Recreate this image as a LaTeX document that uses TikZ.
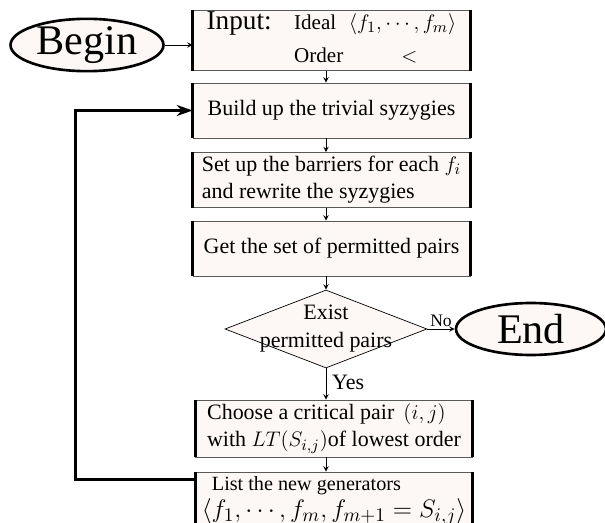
\documentclass[tikz,border=0pt]{standalone}
\usepackage{fontspec}
\setmainfont{Liberation Serif}
\usetikzlibrary{shapes.geometric, arrows, arrows.meta}
\definecolor{boxfill}{RGB}{253,248,246}
\tikzset{
  %---------------------------------------%
  %        Flowchart: step boxes          %
  %---------------------------------------%
  % Thick bars on the sides of a step box
  box_side/.style={
    -,
    draw=black,
    line width=1.9pt
  },
  % Box for a step of the algorithm
  box_step/.style={
    rectangle,
    align=center,
    draw=black!65,
    thin,
    fill=boxfill,
    minimum width=5.54cm,
    minimum height=1.1cm,
    inner sep=2pt,
    font=\fontsize{12.5}{15.5}\selectfont,
    append after command={
      (\tikzlastnode.north west) edge[box_side] (\tikzlastnode.south west)
      (\tikzlastnode.north east) edge[box_side] (\tikzlastnode.south east)}
  },
  % Begin / End
  box_term/.style={
    ellipse,
    draw=black,
    line width=1.5pt,
    fill=boxfill,
    inner sep=0pt,
    font=\fontsize{24}{24}\selectfont
  },
  % Decision
  dec/.style={
    diamond,
    aspect=2.6,
    align=center,
    draw=black,
    thin,
    fill=boxfill,
    inner sep=-0.3cm,
    minimum width=4.04cm,
    minimum height=1.56cm,
    font=\fontsize{12.5}{16}\selectfont
  },
  %----------------%
  %     Arrows     %
  %----------------%
  arrow/.style={draw,thin,->,>=stealth},
  loop_arrow/.style={draw,line width=1.9pt,-{Stealth[length=0.32cm,width=0.22cm]}},
}

\begin{document}
\begin{tikzpicture}[x=0.02cm, y=-0.02cm]
    \useasboundingbox (0,0) rectangle (605,523);

    %-----------%
    %  Start    %
    %-----------%
    % Begin
    \node (begin) [box_term, minimum width=3.06cm, minimum height=1.0cm] at (87,45) {Begin};
    % Input
    \node (input) [box_step, inner sep=0pt] at (331.5,40.5) {%
      \begin{tabular}{@{}l@{\hspace{0.45cm}}l@{\ }l@{}}
        {\fontsize{15.5}{17}\selectfont Input:} & \fontsize{12}{14}\selectfont Ideal & $\langle f_1,\cdots,f_m\rangle$\\[3pt]
        & \fontsize{12}{14}\selectfont Order & \hspace{1.05cm}$<$
      \end{tabular}};

    %-----------%
    %  Steps    %
    %-----------%
    % Trivial syzygies
    \node (build) [box_step] at (331.5,110.5) {Build up the trivial syzygies};
    % Barriers
    \node (setup) [box_step, align=left] at (331.5,180) {Set up the barriers for each $f_i$\\and rewrite the syzygies};
    % Permitted pairs
    \node (get) [box_step] at (331.5,248.5) {Get the set of permitted pairs};

    %-------------%
    %  Decision   %
    %-------------%
    \node (exist) [dec] at (326,329) {Exist\\permitted pairs};
    % End
    \node (end) [box_term, minimum width=3.0cm, minimum height=1.04cm] at (531,329) {End};

    %--------------%
    %  Loop body   %
    %--------------%
    % Critical pair
    \node (choose) [box_step, align=left, minimum height=1.14cm] at (334,428.5) {Choose a critical pair\ \,$(i,j)$\\with $LT(S_{i,j})$of lowest order};
    % New generators
    \node (list) [box_step, align=left, minimum height=1.16cm, inner xsep=0pt] at (334,501) {{\fontsize{11.5}{14}\selectfont\ \ List the new generators}\\{\fontsize{15.5}{17}\selectfont$\langle f_1,\cdots,f_m,f_{m+1}=S_{i,j}\rangle$}};

    %----------%
    %  Arrows  %
    %----------%
    % Begin --> Input
    \draw [arrow] (begin.east) -- (input.west |- begin.east);
    % Input --> Build
    \draw [arrow] (input.south -| exist.north) -- (build.north -| exist.north);
    % Build --> Set up
    \draw [arrow] (build.south -| exist.north) -- (setup.north -| exist.north);
    % Set up --> Get
    \draw [arrow] (setup.south -| exist.north) -- (get.north -| exist.north);
    % Get --> Exist
    \draw [arrow] (get.south -| exist.north) -- (exist.north);
    % Exist --> End
    \draw [arrow] (exist.east) -- node (no_lbl) [above, font=\fontsize{10}{10}\selectfont, inner sep=1pt] {No} (end.west);
    % Exist --> Choose
    \draw [arrow] (exist.south) -- node (yes_lbl) [right, pos=0.45, font=\fontsize{12.5}{13}\selectfont] {Yes} (choose.north -| exist.south);
    % Choose --> List
    \draw [arrow] (choose.south -| exist.south) -- (list.north -| exist.south);
    % List --> Build (loop back)
    \coordinate (loop_start) at ([yshift=-0.16cm]list.north west);
    \draw [loop_arrow] (loop_start) -- ++(-120,0) |- (build.west);
\end{tikzpicture}
\end{document}
